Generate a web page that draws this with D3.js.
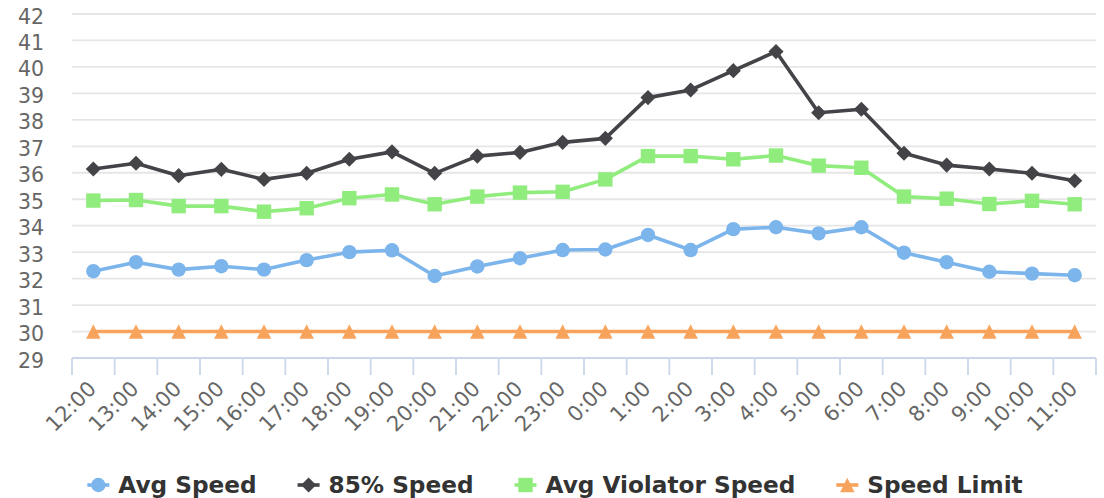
<!DOCTYPE html>
<html lang="en">

<head>
    <meta charset="UTF-8">
    <script src="https://d3js.org/d3.v7.min.js"></script>
    <title>Speed Chart</title>
    <style>
        body { margin: 0; background: #fff; }
        text { font-family: "DejaVu Sans", sans-serif; }
    </style>
</head>

<body>
    <div id="chart"></div>
    <script>
        const hours = ['12:00', '13:00', '14:00', '15:00', '16:00', '17:00', '18:00', '19:00',
            '20:00', '21:00', '22:00', '23:00', '0:00', '1:00', '2:00', '3:00',
            '4:00', '5:00', '6:00', '7:00', '8:00', '9:00', '10:00', '11:00'];

        const avgSpeed = [32.28, 32.62, 32.34, 32.47, 32.34, 32.7, 33.0, 33.07,
            32.1, 32.46, 32.77, 33.08, 33.1, 33.65, 33.08, 33.87,
            33.94, 33.71, 33.94, 32.98, 32.62, 32.26, 32.19, 32.13];
        const speed85 = [36.14, 36.36, 35.89, 36.13, 35.75, 35.98, 36.51, 36.79,
            35.98, 36.63, 36.77, 37.15, 37.3, 38.84, 39.13, 39.86,
            40.58, 38.27, 38.4, 36.74, 36.29, 36.14, 35.98, 35.7];
        const violatorSpeed = [34.95, 34.97, 34.74, 34.74, 34.53, 34.66, 35.04, 35.18,
            34.81, 35.1, 35.25, 35.28, 35.75, 36.63, 36.63, 36.51,
            36.65, 36.27, 36.19, 35.1, 35.02, 34.82, 34.94, 34.81];
        const speedLimit = [30, 30, 30, 30, 30, 30, 30, 30,
            30, 30, 30, 30, 30, 30, 30, 30,
            30, 30, 30, 30, 30, 30, 30, 30];

        const yTicks = [29, 30, 31, 32, 33, 34, 35, 36, 37, 38, 39, 40, 41, 42];

        const series = [
            { name: 'Avg Speed', values: avgSpeed, color: '#7cb5ec', symbol: d3.symbolCircle },
            { name: '85% Speed', values: speed85, color: '#434348', symbol: 'diamond' },
            { name: 'Avg Violator Speed', values: violatorSpeed, color: '#90ed7d', symbol: d3.symbolSquare },
            { name: 'Speed Limit', values: speedLimit, color: '#f7a35c', symbol: d3.symbolTriangle },
        ];

        const width = 1104;
        const height = 498;
        const plot = { left: 72, right: 1096, top: 14, bottom: 358 };
        const r = 7.2;

        const svg = d3.select('#chart')
            .append('svg')
            .attr('width', width)
            .attr('height', height);

        const x = d3.scaleBand()
            .domain(hours)
            .range([plot.left, plot.right]);

        const y = d3.scaleLinear()
            .domain([29, 42])
            .range([plot.bottom, plot.top]);

        // grid lines
        svg.append('g')
            .selectAll('line')
            .data(yTicks.slice(1))
            .enter()
            .append('line')
            .attr('x1', plot.left)
            .attr('x2', plot.right)
            .attr('y1', d => y(d))
            .attr('y2', d => y(d))
            .attr('stroke', '#e6e6e6')
            .attr('stroke-width', 1.8);

        // y labels
        svg.append('g')
            .selectAll('text')
            .data(yTicks)
            .enter()
            .append('text')
            .attr('x', 44)
            .attr('y', d => y(d) + 9.5)
            .attr('text-anchor', 'end')
            .attr('font-size', 20.5)
            .attr('fill', '#666666')
            .text(d => d);

        // x axis
        svg.append('line')
            .attr('x1', plot.left)
            .attr('x2', plot.right)
            .attr('y1', plot.bottom)
            .attr('y2', plot.bottom)
            .attr('stroke', '#ccd6eb')
            .attr('stroke-width', 1.8);

        const tickPos = hours.map(h => x(h)).concat([x(hours[hours.length - 1]) + x.bandwidth()]);
        svg.append('g')
            .selectAll('line')
            .data(tickPos)
            .enter()
            .append('line')
            .attr('x1', d => d)
            .attr('x2', d => d)
            .attr('y1', plot.bottom)
            .attr('y2', plot.bottom + 17)
            .attr('stroke', '#ccd6eb')
            .attr('stroke-width', 1.8);

        svg.append('g')
            .selectAll('text')
            .data(hours)
            .enter()
            .append('text')
            .attr('transform', d => `translate(${x(d) + x.bandwidth() / 2 + 4},390) rotate(-45)`)
            .attr('text-anchor', 'end')
            .attr('font-size', 21)
            .attr('fill', '#666666')
            .text(d => d);

        const cx = d => x(d) + x.bandwidth() / 2;

        function symbolPath(s) {
            if (s === 'diamond') {
                return `M0,${-r * 1.05}L${r * 1.05},0L0,${r * 1.05}L${-r * 1.05},0Z`;
            }
            if (s === d3.symbolTriangle) {
                return `M0,${-r}L${r},${r}L${-r},${r}Z`;
            }
            if (s === d3.symbolSquare) {
                return `M${-r},${-r}H${r}V${r}H${-r}Z`;
            }
            return d3.symbol().type(s).size(Math.PI * r * r)();
        }

        const line = d3.line()
            .x((d, i) => cx(hours[i]))
            .y(d => y(d));

        series.forEach(s => {
            const g = svg.append('g');
            g.append('path')
                .attr('d', line(s.values))
                .attr('fill', 'none')
                .attr('stroke', s.color)
                .attr('stroke-width', 3.6)
                .attr('stroke-linejoin', 'round')
                .attr('stroke-linecap', 'round');
            g.selectAll('path.marker')
                .data(s.values)
                .enter()
                .append('path')
                .attr('class', 'marker')
                .attr('d', symbolPath(s.symbol))
                .attr('transform', (d, i) => `translate(${cx(hours[i])},${y(d)})`)
                .attr('fill', s.color);
        });

        // legend
        const legend = svg.append('g');
        let lx = 0;
        series.forEach(s => {
            const item = legend.append('g').attr('transform', `translate(${lx},0)`);
            item.append('line')
                .attr('x1', 0)
                .attr('x2', 22)
                .attr('y1', 485)
                .attr('y2', 485)
                .attr('stroke', s.color)
                .attr('stroke-width', 3.6);
            item.append('path')
                .attr('d', symbolPath(s.symbol))
                .attr('transform', 'translate(11,485)')
                .attr('fill', s.color);
            const t = item.append('text')
                .attr('x', 31)
                .attr('y', 493)
                .attr('font-size', 23.2)
                .attr('font-weight', 'bold')
                .attr('fill', '#333333')
                .text(s.name);
            lx += 31 + t.node().getComputedTextLength() + 41;
        });
        const legendWidth = lx - 41;
        legend.attr('transform', `translate(${(width - legendWidth) / 2 + 3},0)`);
    </script>
</body>

</html>
